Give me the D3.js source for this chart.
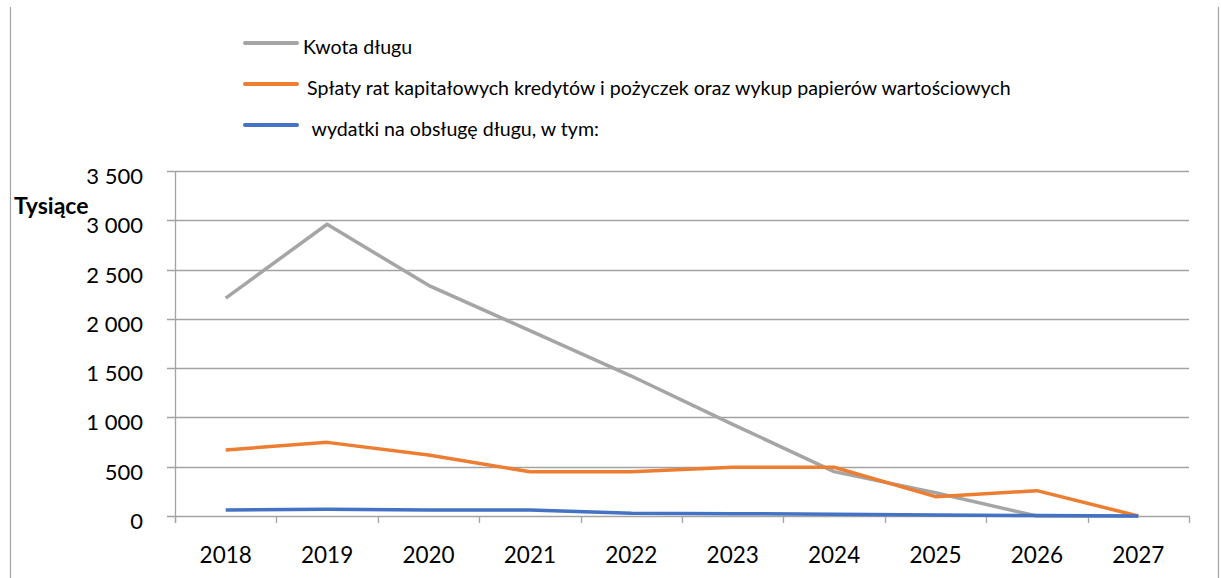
<!DOCTYPE html>
<html>
<head>
<meta charset="utf-8">
<script src="https://cdn.jsdelivr.net/npm/d3@7"></script>
<style>
  html, body { margin: 0; padding: 0; background: #fff; }
  svg { display: block; font-family: Lato, "Open Sans", sans-serif; }
</style>
</head>
<body>
<svg id="chart" width="1221" height="578"></svg>
<script>
// dane (tys. zł)
const years = ['2018', '2019', '2020', '2021', '2022', '2023', '2024', '2025', '2026', '2027'];
const kwotaDlugu = [2210, 2960, 2340, 1880, 1420, 930, 450, 235, 0, 0];
const splatyRat = [670, 747, 619, 449, 449, 495, 495, 196, 257, 0];
const wydatkiObslugi = [61, 68, 61, 60, 27, 24, 18, 10, 5, 0];
const yTicks = [0, 500, 1000, 1500, 2000, 2500, 3000, 3500];

const series = [
  { name: 'Kwota długu', values: kwotaDlugu, color: '#a5a5a5' },
  { name: 'Spłaty rat kapitałowych kredytów i pożyczek oraz wykup papierów wartościowych', values: splatyRat, color: '#ed7d31' },
  { name: ' wydatki na obsługę długu, w tym:', values: wydatkiObslugi, color: '#4472c4' }
];

const svg = d3.select('#chart');
const plot = { left: 175, right: 1189, top: 171, bottom: 516 };
const gridColor = '#a3a3a3';

const x = d3.scaleBand().domain(years).range([plot.left, plot.right]);
const y = d3.scaleLinear().domain([0, 3500]).range([plot.bottom, plot.top]);

// ramka (tylko pionowe krawędzie widoczne)
svg.append('line').attr('x1', 10.5).attr('x2', 10.5).attr('y1', 7).attr('y2', 578)
  .attr('stroke', gridColor).attr('stroke-width', 1.2);
svg.append('line').attr('x1', 1218.5).attr('x2', 1218.5).attr('y1', 7).attr('y2', 578)
  .attr('stroke', gridColor).attr('stroke-width', 1.2);

// siatka + etykiety osi Y
const fmt = v => d3.format(',')(v).replace(/,/g, ' ');
const gy = svg.append('g');
gy.selectAll('line.grid').data(yTicks).join('line')
  .attr('class', 'grid')
  .attr('x1', plot.left - 8).attr('x2', plot.right)
  .attr('y1', d => Math.round(y(d)) + 0.5).attr('y2', d => Math.round(y(d)) + 0.5)
  .attr('stroke', gridColor).attr('stroke-width', 1.3);
gy.selectAll('text').data(yTicks).join('text')
  .attr('x', 143).attr('y', d => y(d) + 13)
  .attr('text-anchor', 'end')
  .attr('font-size', 22)
  .attr('fill', '#000')
  .text(fmt);

// oś Y
svg.append('line')
  .attr('x1', plot.left + 0.5).attr('x2', plot.left + 0.5)
  .attr('y1', plot.top).attr('y2', plot.bottom + 7)
  .attr('stroke', gridColor).attr('stroke-width', 1.3);

// znaczniki osi X na granicach kategorii
const bounds = years.map(d => x(d)).concat([plot.right]);
svg.append('g').selectAll('line').data(bounds).join('line')
  .attr('x1', d => Math.round(d) + 0.5).attr('x2', d => Math.round(d) + 0.5)
  .attr('y1', plot.bottom).attr('y2', plot.bottom + 7)
  .attr('stroke', gridColor).attr('stroke-width', 1.3);

svg.append('g').selectAll('text').data(years).join('text')
  .attr('x', d => x(d) + x.bandwidth() / 2)
  .attr('y', 563)
  .attr('text-anchor', 'middle')
  .attr('font-size', 22.5)
  .attr('fill', '#000')
  .text(d => d);

// linie serii
const line = d3.line()
  .x((d, i) => x(years[i]) + x.bandwidth() / 2)
  .y(d => y(d));

svg.append('g').selectAll('path').data(series).join('path')
  .attr('d', d => line(d.values))
  .attr('fill', 'none')
  .attr('stroke', d => d.color)
  .attr('stroke-width', 3.5)
  .attr('stroke-linejoin', 'round');

// tytuł osi
svg.append('text')
  .attr('x', 14).attr('y', 214)
  .attr('font-size', 23)
  .attr('font-weight', 'bold')
  .attr('fill', '#000')
  .text('Tysiące');

// legenda
const legendY = [43, 84, 125];
const legendTextX = [303, 307, 307];
const legend = svg.append('g');
series.forEach((s, i) => {
  legend.append('line')
    .attr('x1', 245).attr('x2', 297)
    .attr('y1', legendY[i]).attr('y2', legendY[i])
    .attr('stroke', s.color).attr('stroke-width', 4)
    .attr('stroke-linecap', 'round');
  legend.append('text')
    .attr('x', legendTextX[i]).attr('y', legendY[i] + 11)
    .attr('font-size', 19.6)
    .attr('fill', '#000')
    .style('white-space', 'pre')
    .text(s.name);
});
</script>
</body>
</html>
